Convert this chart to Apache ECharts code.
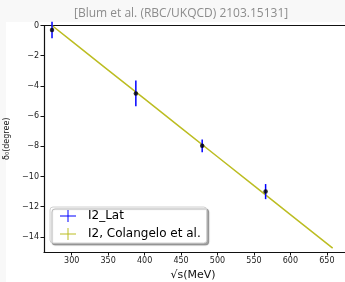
<!DOCTYPE html>
<html>
<head>
<meta charset="utf-8">
<script src="https://cdn.jsdelivr.net/npm/echarts@6/dist/echarts.min.js"></script>
<style>
html, body { margin: 0; padding: 0; background: #f8f8f8; }
#chart { width: 345px; height: 282px; }
</style>
</head>
<body>
<div id="chart"></div>
<script>
// lattice points: sqrt(s) in MeV, delta_0 in degrees, error
const latX = [273, 388, 479, 566];
const latY = [-0.3, -4.5, -7.97, -11.0];
const latErr = [0.55, 0.85, 0.42, 0.5];

// Colangelo et al. curve
const curveX = [273, 300, 350, 400, 450, 500, 550, 600, 658];
const curveY = [0, -1.03, -2.95, -4.86, -6.78, -8.69, -10.61, -12.52, -14.74];

const xTicks = [300, 350, 400, 450, 500, 550, 600, 650];
const yTicks = [0, -2, -4, -6, -8, -10, -12, -14];

const latPoints = latX.map((x, i) => [x, latY[i]]);
const latBars = latX.map((x, i) => [x, latY[i] - latErr[i], latY[i] + latErr[i]]);
const curve = curveX.map((x, i) => [x, curveY[i]]);

const chart = echarts.init(document.getElementById('chart'));

const axisLine = { show: true, onZero: false, lineStyle: { color: '#111', width: 1.2 } };
const tickFont = { fontFamily: 'DejaVu Sans', fontSize: 8, color: '#222' };
const plusIcon = 'path://M0,5.5h16v1h-16z M7.5,0h1v12h-1z';

chart.setOption({
  backgroundColor: '#f8f8f8',
  animation: false,
  title: {
    text: '[Blum et al. (RBC/UKQCD) 2103.15131]',
    left: 69,
    top: 3,
    textStyle: { fontFamily: 'Open Sans', fontSize: 12, fontWeight: 'normal', color: '#8c8c8c' }
  },
  graphic: [{
    type: 'rect', z: -10, silent: true,
    shape: { x: 6, y: 22, width: 339, height: 260 },
    style: { fill: '#fff' }
  }],
  grid: { left: 44, top: 25.5, width: 312, height: 226.5, outerBoundsMode: 'none' },
  legend: {
    orient: 'vertical',
    left: 50, top: 207,
    padding: [3, 6, 3, 10],
    itemGap: 6,
    itemWidth: 16, itemHeight: 12,
    backgroundColor: '#fff',
    borderColor: '#d0d0d0', borderWidth: 1, borderRadius: 3,
    shadowColor: 'rgba(0,0,0,0.35)', shadowOffsetX: 2, shadowOffsetY: 2, shadowBlur: 1,
    textStyle: { fontFamily: 'DejaVu Sans', fontSize: 12, color: '#000', padding: [0, 0, 0, 7] },
    data: [
      { name: 'I2_Lat', icon: plusIcon, itemStyle: { color: '#0000ff' } },
      { name: 'I2, Colangelo et al.', icon: plusIcon, itemStyle: { color: '#bcbd22' } }
    ]
  },
  xAxis: [{
    type: 'value', min: 262, max: 690,
    name: '√s(MeV)', nameLocation: 'middle', nameGap: 12,
    nameTextStyle: { fontFamily: 'DejaVu Sans', fontSize: 11, color: '#111', padding: [0, 14, 0, 0] },
    axisLine: axisLine,
    axisTick: { show: true, customValues: xTicks, length: 3.5, lineStyle: { color: '#111' } },
    axisLabel: { customValues: xTicks, margin: 5, ...tickFont },
    splitLine: { show: false }
  }, {
    type: 'value', min: 262, max: 690, position: 'top',
    axisLine: axisLine, axisTick: { show: false }, axisLabel: { show: false },
    splitLine: { show: false }
  }],
  yAxis: {
    type: 'value', min: -15, max: 0,
    name: 'δ₀(degree)', nameLocation: 'middle', nameGap: 23, nameRotate: 90,
    nameTextStyle: { fontFamily: 'DejaVu Sans', fontSize: 8, color: '#111' },
    axisLine: axisLine,
    axisTick: { show: true, customValues: yTicks, length: 3.5, lineStyle: { color: '#111' } },
    axisLabel: {
      customValues: yTicks, margin: 5, ...tickFont,
      formatter: v => String(v).replace('-', '\u2212')
    },
    splitLine: { show: false }
  },
  series: [{
    name: 'I2, Colangelo et al.',
    type: 'line',
    data: curve,
    showSymbol: false,
    lineStyle: { color: '#bcbd22', width: 1.5 },
    itemStyle: { color: '#bcbd22' },
    z: 2
  }, {
    name: 'I2_Lat',
    type: 'custom',
    data: latBars,
    renderItem: (params, api) => {
      const lo = api.coord([api.value(0), api.value(1)]);
      const hi = api.coord([api.value(0), api.value(2)]);
      return {
        type: 'line',
        shape: { x1: lo[0], y1: lo[1], x2: hi[0], y2: hi[1] },
        style: { stroke: '#0000ff', lineWidth: 1.5 }
      };
    },
    itemStyle: { color: '#0000ff' },
    z: 3
  }, {
    name: 'I2_Lat',
    type: 'scatter',
    data: latPoints,
    symbol: 'circle',
    symbolSize: 4.5,
    itemStyle: { color: '#000' },
    z: 4
  }]
});
</script>
</body>
</html>
